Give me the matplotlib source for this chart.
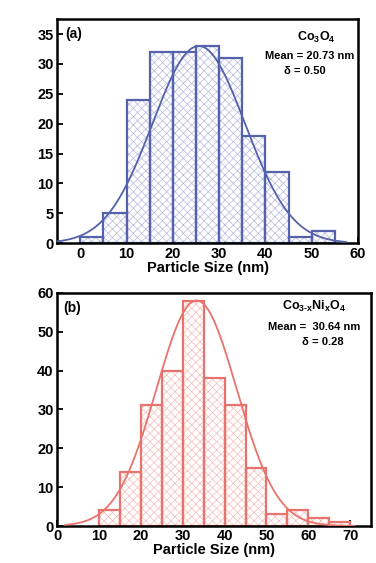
import numpy as np
import matplotlib
matplotlib.use("Agg")
import matplotlib.pyplot as plt

plt.rcParams['font.family'] = ['Liberation Sans', 'DejaVu Sans']
plt.rcParams['font.weight'] = 'bold'
plt.rcParams['mathtext.fontset'] = 'custom'
plt.rcParams['mathtext.rm'] = 'Liberation Sans:bold'
plt.rcParams['mathtext.default'] = 'rm'
plt.rcParams['hatch.linewidth'] = 0.5

# panel (a) Co3O4
a_edges = [0, 5, 10, 15, 20, 25, 30, 35, 40, 45, 50]
a_counts = [1, 5, 24, 32, 32, 33, 31, 18, 12, 1, 2]
a_fit = (33.0, 25.6, 10.0)      # amplitude, centre, width of the fitted curve
a_fit_range = (-5, 57.5)

# panel (b) Co3-xNixO4
b_edges = [10, 15, 20, 25, 30, 35, 40, 45, 50, 55, 60, 65]
b_counts = [4, 14, 31, 40, 58, 38, 31, 15, 3, 4, 2, 1]
b_fit = (58.0, 33.3, 9.6)
b_fit_range = (2, 71)

bin_w = 5

fig = plt.figure(figsize=(3.76, 5.63), dpi=100)
ax1 = fig.add_axes([0.152, 0.568, 0.800, 0.398])
ax2 = fig.add_axes([0.152, 0.0657, 0.835, 0.4143])


def draw_panel(ax, edges, counts, fit, fit_range, line_col, hatch_col):
    # hatched fill first, then the outlines on top
    ax.bar(edges, counts, width=bin_w, align='edge', color='white',
           edgecolor=hatch_col, hatch='xxxx', linewidth=0, zorder=1)
    ax.bar(edges, counts, width=bin_w, align='edge', fill=False,
           edgecolor=line_col, linewidth=1.6, zorder=2)
    amp, mu, sig = fit
    xs = np.linspace(fit_range[0], fit_range[1], 300)
    ax.plot(xs, amp * np.exp(-(xs - mu) ** 2 / (2 * sig ** 2)),
            color=line_col, linewidth=1.3, zorder=3)
    for s in ax.spines.values():
        s.set_linewidth(1.8)
    ax.tick_params(direction='in', length=4, width=1.3, labelsize=10.5,
                   top=False, right=False, pad=2.5)
    for lab in ax.get_xticklabels() + ax.get_yticklabels():
        lab.set_fontweight('bold')
    ax.set_xlabel('Particle Size (nm)', fontsize=10.5, fontweight='bold', labelpad=0)


draw_panel(ax1, a_edges, a_counts, a_fit, a_fit_range, '#5461ad', '#b4b9de')
ax1.set_xlim(-5, 60)
ax1.set_ylim(0, 37.5)
ax1.set_xticks(range(0, 61, 10))
ax1.set_yticks(range(0, 36, 5))
ax1.text(0.027, 0.934, '(a)', transform=ax1.transAxes, fontsize=10,
         fontweight='bold', va='center', ha='left')
ax1.text(0.86, 0.917, 'Co$_3$O$_4$', transform=ax1.transAxes, fontsize=9,
         ha='center', va='center')
ax1.text(0.84, 0.836, 'Mean = 20.73 nm', transform=ax1.transAxes, fontsize=8,
         fontweight='bold', ha='center', va='center')
ax1.text(0.825, 0.77, 'δ = 0.50', transform=ax1.transAxes, fontsize=8,
         fontweight='bold', ha='center', va='center')

draw_panel(ax2, b_edges, b_counts, b_fit, b_fit_range, '#e8736c', '#f5bcb8')
ax2.set_xlim(0, 75)
ax2.set_ylim(0, 60)
ax2.set_xticks(range(0, 71, 10))
ax2.set_yticks(range(0, 61, 10))
ax2.text(0.02, 0.934, '(b)', transform=ax2.transAxes, fontsize=10,
         fontweight='bold', va='center', ha='left')
ax2.text(0.818, 0.94, 'Co$_{3\u2010x}$Ni$_x$O$_4$', transform=ax2.transAxes,
         fontsize=9, ha='center', va='center')
ax2.text(0.82, 0.853, 'Mean =  30.64 nm', transform=ax2.transAxes, fontsize=8,
         fontweight='bold', ha='center', va='center')
ax2.text(0.845, 0.79, 'δ = 0.28', transform=ax2.transAxes, fontsize=8,
         fontweight='bold', ha='center', va='center')

fig.savefig('out.png', dpi=100)
